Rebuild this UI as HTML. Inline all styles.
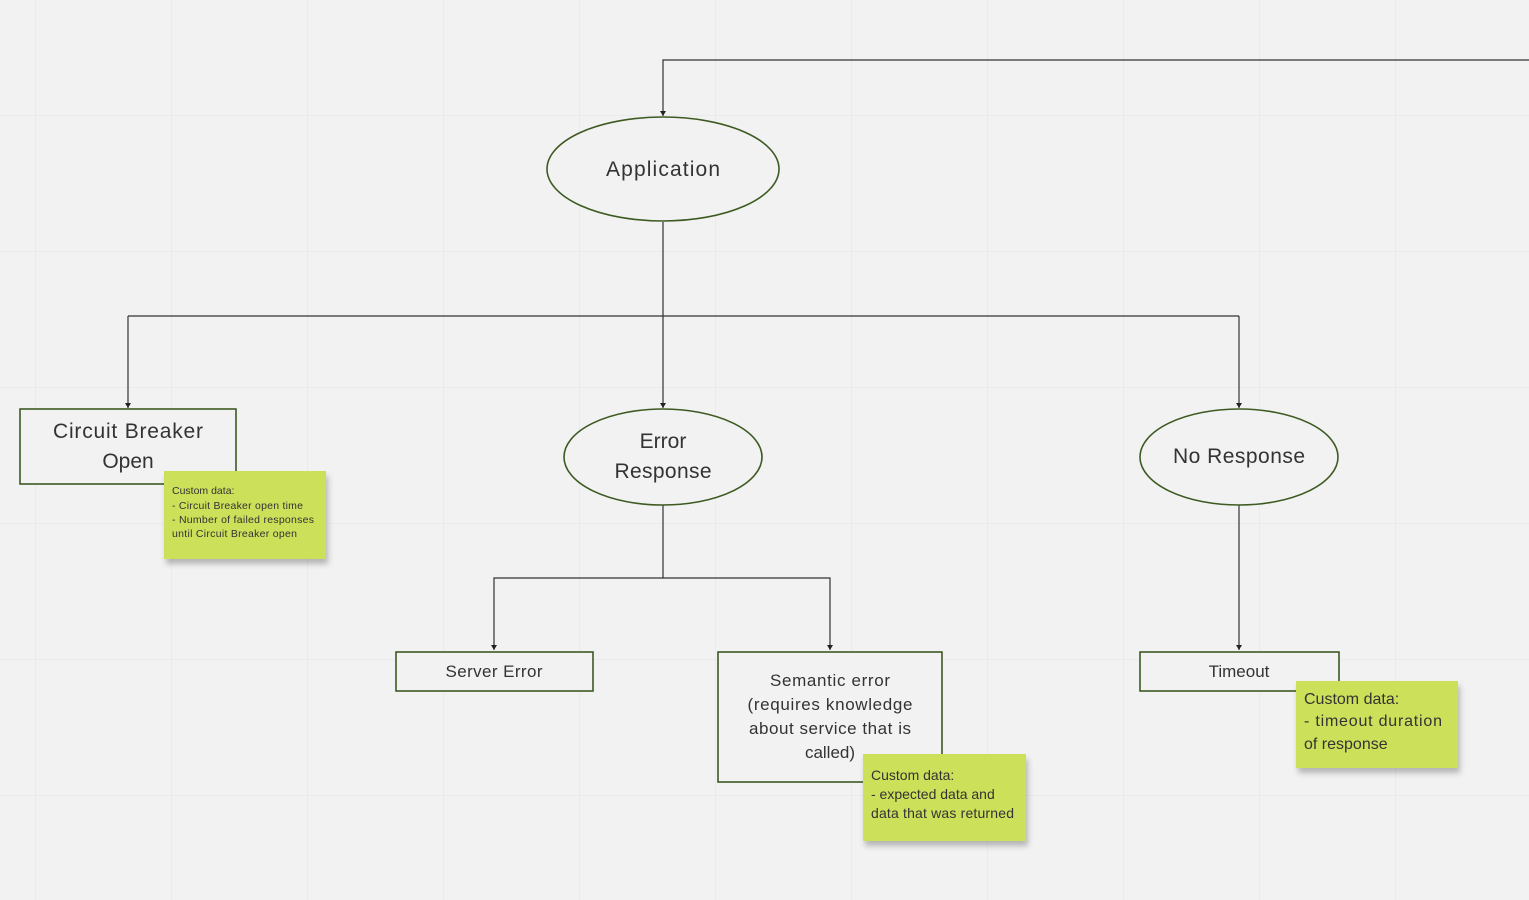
<!DOCTYPE html>
<html><head><meta charset="utf-8"><style>
html,body{margin:0;padding:0;background:#f2f2f2;}
svg{display:block;font-family:"Liberation Sans","DejaVu Sans",sans-serif;}
</style></head><body>
<svg width="1529" height="900" viewBox="0 0 1529 900" xmlns="http://www.w3.org/2000/svg">
<defs>
<pattern id="g" x="35" y="115" width="136" height="136" patternUnits="userSpaceOnUse">
<path d="M0 0V136M0 0H136" stroke="#e4e4e4" stroke-width="1" fill="none"/>
</pattern>
<marker id="a" markerWidth="6" markerHeight="6" refX="5" refY="3" orient="auto" markerUnits="userSpaceOnUse"><path d="M0 0L5 3L0 6Z" fill="#222"/></marker>
<filter id="sh" x="-10%" y="-10%" width="130%" height="140%"><feDropShadow dx="2" dy="5" stdDeviation="3" flood-color="#000" flood-opacity="0.25"/></filter>
</defs>
<rect width="1529" height="900" fill="#f2f2f2"/>
<rect width="1529" height="900" fill="url(#g)"/>
<g stroke="#333" stroke-width="1.2" fill="none">
<path d="M1529 60H663V116" marker-end="url(#a)"/>
<path d="M663 222V408" marker-end="url(#a)"/>
<path d="M128 316H1239"/>
<path d="M128 316V408" marker-end="url(#a)"/>
<path d="M1239 316V408" marker-end="url(#a)"/>
<path d="M663 505V578H494V650" marker-end="url(#a)"/>
<path d="M663 578H830V650" marker-end="url(#a)"/>
<path d="M1239 505V650" marker-end="url(#a)"/>
</g>
<g stroke="#3d5a22" stroke-width="1.6" fill="#f2f2f2">
<ellipse cx="663" cy="169" rx="116" ry="52"/>
<rect x="20" y="409" width="216" height="75"/>
<ellipse cx="663" cy="457" rx="99" ry="48"/>
<ellipse cx="1239" cy="457" rx="99" ry="48"/>
<rect x="396" y="652" width="197" height="39"/>
<rect x="718" y="652" width="224" height="130"/>
<rect x="1140" y="652" width="199" height="39"/>
</g>
<g fill="#333" text-anchor="middle" font-size="21">
<text x="663" y="176" textLength="114">Application</text>
<text x="128" y="438" textLength="150">Circuit Breaker</text>
<text x="128" y="468">Open</text>
<text x="663" y="448">Error</text>
<text x="663" y="478" textLength="97">Response</text>
<text x="1239" y="463" textLength="132">No Response</text>
</g>
<g fill="#333" text-anchor="middle" font-size="17">
<text x="494" y="677" textLength="97">Server Error</text>
<text x="830" y="686" textLength="120">Semantic error</text>
<text x="830" y="710" textLength="165">(requires knowledge</text>
<text x="830" y="734" textLength="162">about service that is</text>
<text x="830" y="758">called)</text>
<text x="1239" y="677">Timeout</text>
</g>
<g filter="url(#sh)" fill="#cde05a">
<rect x="164" y="471" width="162" height="88"/>
<rect x="863" y="754" width="163" height="87"/>
<rect x="1296" y="681" width="162" height="87"/>
</g>
<g fill="#333" font-size="10.5">
<text x="172" y="494">Custom data:</text>
<text x="172" y="509" textLength="131">- Circuit Breaker open time</text>
<text x="172" y="523" textLength="142">- Number of failed responses</text>
<text x="172" y="537" textLength="125">until Circuit Breaker open</text>
</g>
<g fill="#333" font-size="14">
<text x="871" y="780">Custom data:</text>
<text x="871" y="799">- expected data and</text>
<text x="871" y="818" textLength="143">data that was returned</text>
</g>
<g fill="#333" font-size="16">
<text x="1304" y="704">Custom data:</text>
<text x="1304" y="726" textLength="138">- timeout duration</text>
<text x="1304" y="749">of response</text>
</g>
</svg>
</body></html>
